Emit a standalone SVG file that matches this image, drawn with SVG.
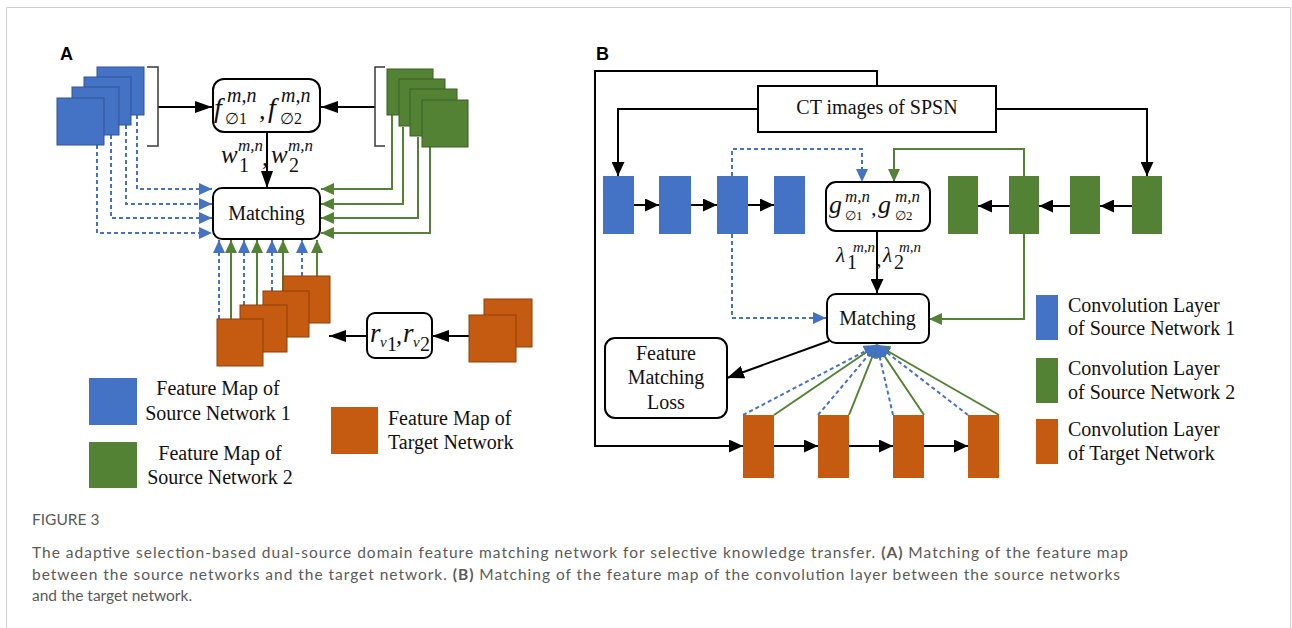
<svg xmlns="http://www.w3.org/2000/svg" width="1292" height="628" viewBox="0 0 1292 628">
<style>
  .frame{fill:none;stroke:#cfcfcf;stroke-width:1}
  .sqb{fill:#4472C4;stroke:#2F5597;stroke-width:1}
  .sqg{fill:#548235;stroke:#3A5F24;stroke-width:1}
  .sqo{fill:#C55A11;stroke:#8E3F0B;stroke-width:1}
  .lb{fill:#4472C4}
  .lg{fill:#548235}
  .lo{fill:#C55A11}
  .box{fill:#fff;stroke:#000;stroke-width:2}
  .brk{fill:none;stroke:#3a3a3a;stroke-width:1.5}
  .k{fill:none;stroke:#000;stroke-width:2}
  .bd{fill:none;stroke:#4472C4;stroke-width:2;stroke-dasharray:4 3}
  .gs{fill:none;stroke:#548235;stroke-width:2}
  .t{font-family:"Liberation Serif","Times New Roman",serif;font-size:20px;fill:#111}
  .m{font-family:"Liberation Serif","DejaVu Serif",serif;font-style:italic;fill:#111}
  .u{font-family:"DejaVu Serif","Liberation Serif",serif;font-style:normal;fill:#111}
  .pl{font-family:"Liberation Sans",Arial,sans-serif;font-weight:bold;font-size:18px;fill:#000}
  .cap{font-family:Lato,"Open Sans",sans-serif;font-size:15.5px;fill:#5a5a5a}
</style>
<defs>
  <marker id="hA" markerUnits="userSpaceOnUse" markerWidth="17" markerHeight="12" refX="17" refY="6" orient="auto">
    <path d="M0,0 L17,6 L0,12 z" fill="#000"/>
  </marker>
  <marker id="hK" markerUnits="userSpaceOnUse" markerWidth="14" markerHeight="13" refX="14" refY="6.5" orient="auto">
    <path d="M0,0 L14,6.5 L0,13 z" fill="#000"/>
  </marker>
  <marker id="hL" markerUnits="userSpaceOnUse" markerWidth="17" markerHeight="13" refX="17" refY="6.5" orient="auto">
    <path d="M0,0 L17,6.5 L0,13 z" fill="#000"/>
  </marker>
  <marker id="hB" markerUnits="userSpaceOnUse" markerWidth="13" markerHeight="12" refX="13" refY="6" orient="auto">
    <path d="M0,0 L13,6 L0,12 z" fill="#4472C4"/>
  </marker>
  <marker id="hG" markerUnits="userSpaceOnUse" markerWidth="13" markerHeight="12" refX="13" refY="6" orient="auto">
    <path d="M0,0 L13,6 L0,12 z" fill="#548235"/>
  </marker>
</defs>

<rect width="1292" height="628" fill="#fff"/>
<path class="frame" d="M6.5,628 V7.5 H1290.5 V628"/>

<!-- ===== Panel A ===== -->
<text class="pl" x="60" y="59.5">A</text>

<g id="connectors-a">
  <path class="k" d="M158,107 H212" marker-end="url(#hA)"/>
  <path class="k" d="M375,107 H321" marker-end="url(#hA)"/>
  <path class="k" d="M267,132 V188" marker-end="url(#hA)"/>
  <!-- source 1 maps to matching -->
  <path class="bd" d="M137,115 V189 H212" marker-end="url(#hB)"/>
  <path class="bd" d="M126,125 V204 H212" marker-end="url(#hB)"/>
  <path class="bd" d="M111,135 V218 H212" marker-end="url(#hB)"/>
  <path class="bd" d="M97,145 V233 H212" marker-end="url(#hB)"/>
  <!-- source 2 maps to matching -->
  <path class="gs" d="M392,115 V189 H321" marker-end="url(#hG)"/>
  <path class="gs" d="M403,127 V204 H321" marker-end="url(#hG)"/>
  <path class="gs" d="M418,137 V218 H321" marker-end="url(#hG)"/>
  <path class="gs" d="M430,147 V233 H321" marker-end="url(#hG)"/>
  <!-- target maps to matching -->
  <path class="bd" d="M219,319 V240" marker-end="url(#hB)"/>
  <path class="gs" d="M231,319 V240" marker-end="url(#hG)"/>
  <path class="bd" d="M244,305 V240" marker-end="url(#hB)"/>
  <path class="gs" d="M257,305 V240" marker-end="url(#hG)"/>
  <path class="bd" d="M272,291 V240" marker-end="url(#hB)"/>
  <path class="gs" d="M283,291 V240" marker-end="url(#hG)"/>
  <path class="bd" d="M302,276 V240" marker-end="url(#hB)"/>
  <path class="gs" d="M317,276 V240" marker-end="url(#hG)"/>
  <!-- r box links -->
  <path class="k" d="M367,336 H329" marker-end="url(#hA)"/>
  <path class="k" d="M469,336 H432" marker-end="url(#hA)"/>
</g>

<g id="source1-maps">
  <rect class="sqb" x="97" y="67" width="47" height="48"/>
  <rect class="sqb" x="84" y="77" width="47" height="48"/>
  <rect class="sqb" x="72" y="87" width="47" height="48"/>
  <rect class="sqb" x="57" y="98" width="47" height="47"/>
  <path class="brk" d="M147,67 H158 V146 H147"/>
</g>

<g id="source2-maps">
  <rect class="sqg" x="387" y="69" width="46" height="46"/>
  <rect class="sqg" x="399" y="79" width="46" height="47"/>
  <rect class="sqg" x="410" y="89" width="47" height="47"/>
  <rect class="sqg" x="422" y="100" width="46" height="47"/>
  <path class="brk" d="M385,67 H375 V146 H385"/>
</g>

<g id="selector-a">
  <rect class="box" x="213" y="79" width="107" height="53" rx="11"/>
  <text class="m" x="214" y="117" font-size="28">f</text>
  <text class="m" x="227" y="102" font-size="20">m,n</text>
  <text class="u" x="225" y="124" font-size="16">∅<tspan font-family="Liberation Serif">1</tspan></text>
  <text class="m" x="259" y="119" font-size="26">,</text>
  <text class="m" x="268" y="117" font-size="28">f</text>
  <text class="m" x="281" y="102" font-size="20">m,n</text>
  <text class="u" x="280" y="124" font-size="16">∅<tspan font-family="Liberation Serif">2</tspan></text>
</g>

<g id="weights-a">
  <text class="m" x="221" y="163" font-size="25">w</text>
  <text class="m" x="238" y="151" font-size="17">m,n</text>
  <text class="t" x="239" y="172" font-size="15">1</text>
  <text class="m" x="262" y="165" font-size="24">,</text>
  <text class="m" x="271" y="163" font-size="25">w</text>
  <text class="m" x="288" y="151" font-size="17">m,n</text>
  <text class="t" x="289" y="172" font-size="15">2</text>
</g>

<g id="matching-a">
  <rect class="box" x="213" y="188" width="107" height="51" rx="9"/>
  <text class="t" x="266.5" y="220" text-anchor="middle">Matching</text>
</g>

<g id="target-maps">
  <rect class="sqo" x="283" y="276" width="47" height="47"/>
  <rect class="sqo" x="263" y="291" width="46" height="46"/>
  <rect class="sqo" x="240" y="305" width="47" height="47"/>
  <rect class="sqo" x="217" y="319" width="46" height="47"/>
</g>

<g id="resize-a">
  <rect class="box" x="367" y="313" width="65" height="45" rx="8"/>
  <text class="m" x="370" y="342" font-size="27">r</text>
  <text class="m" x="380" y="347" font-size="15">v</text>
  <text class="t" x="387" y="351" font-size="13">1</text>
  <text class="m" x="396" y="343" font-size="24">,</text>
  <text class="m" x="403" y="342" font-size="27">r</text>
  <text class="m" x="413" y="347" font-size="15">v</text>
  <text class="t" x="420" y="351" font-size="13">2</text>
</g>

<g id="input-maps">
  <rect class="sqo" x="484" y="299" width="48" height="48"/>
  <rect class="sqo" x="469" y="315" width="47" height="47"/>
</g>

<g id="legend-a">
  <rect class="lb" x="89" y="378" width="48" height="47"/>
  <text class="t" x="218" y="395" text-anchor="middle">Feature Map of</text>
  <text class="t" x="218" y="420" text-anchor="middle">Source Network 1</text>
  <rect class="lg" x="89" y="442" width="48" height="46"/>
  <text class="t" x="220" y="459.5" text-anchor="middle">Feature Map of</text>
  <text class="t" x="220" y="483.5" text-anchor="middle">Source Network 2</text>
  <rect class="lo" x="331" y="407" width="47" height="47"/>
  <text class="t" x="388" y="425">Feature Map of</text>
  <text class="t" x="388" y="449">Target Network</text>
</g>

<!-- ===== Panel B ===== -->
<text class="pl" x="596" y="59.5">B</text>

<g id="connectors-b">
  <path class="k" d="M877,86 V71 H595 V446 H743" marker-end="url(#hK)"/>
  <path class="k" d="M758,109 H618 V176" marker-end="url(#hK)"/>
  <path class="k" d="M996,109 H1147 V176" marker-end="url(#hK)"/>
  <path class="k" d="M633,205 H659" marker-end="url(#hK)"/>
  <path class="k" d="M691,205 H717" marker-end="url(#hK)"/>
  <path class="k" d="M748,205 H774" marker-end="url(#hK)"/>
  <path class="k" d="M1132,206 H1100" marker-end="url(#hK)"/>
  <path class="k" d="M1070,206 H1039" marker-end="url(#hK)"/>
  <path class="k" d="M1009,206 H978" marker-end="url(#hK)"/>
  <path class="bd" d="M732,176 V149 H862 V182" marker-end="url(#hB)"/>
  <path class="gs" d="M1024,176 V149 H894 V182" marker-end="url(#hG)"/>
  <path class="bd" d="M732,234 V318 H826" marker-end="url(#hB)"/>
  <path class="gs" d="M1024,234 V319 H929" marker-end="url(#hG)"/>
  <path class="k" d="M877,231 V293" marker-end="url(#hK)"/>
  <path class="k" d="M829,341 L727,378" marker-end="url(#hL)"/>
  <path class="k" d="M774,446 H818" marker-end="url(#hK)"/>
  <path class="k" d="M849,446 H893" marker-end="url(#hK)"/>
  <path class="k" d="M924,446 H968" marker-end="url(#hK)"/>
  <!-- target layers to matching -->
  <path class="gs" d="M774,415 L877,345" marker-end="url(#hG)"/>
  <path class="gs" d="M849,415 L877,345" marker-end="url(#hG)"/>
  <path class="gs" d="M924,415 L877,345" marker-end="url(#hG)"/>
  <path class="gs" d="M999,415 L877,345" marker-end="url(#hG)"/>
  <path class="bd" d="M743,415 L877,345" marker-end="url(#hB)"/>
  <path class="bd" d="M818,415 L877,345" marker-end="url(#hB)"/>
  <path class="bd" d="M893,415 L877,345" marker-end="url(#hB)"/>
  <path class="bd" d="M968,415 L877,345" marker-end="url(#hB)"/>
</g>

<g id="ct-images">
  <rect x="758" y="86" width="238" height="46" fill="#fff" stroke="#000" stroke-width="2"/>
  <text class="t" x="877" y="114" text-anchor="middle">CT images of SPSN</text>
</g>

<g id="source1-layers">
  <rect class="lb" x="603" y="176" width="31" height="58"/>
  <rect class="lb" x="659" y="176" width="32" height="58"/>
  <rect class="lb" x="717" y="176" width="31" height="58"/>
  <rect class="lb" x="774" y="176" width="31" height="58"/>
</g>

<g id="source2-layers">
  <rect class="lg" x="948" y="176" width="30" height="58"/>
  <rect class="lg" x="1009" y="176" width="30" height="58"/>
  <rect class="lg" x="1070" y="176" width="30" height="58"/>
  <rect class="lg" x="1132" y="176" width="30" height="58"/>
</g>

<g id="selector-b">
  <rect class="box" x="826" y="182" width="104" height="49" rx="10"/>
  <text class="m" x="829" y="213" font-size="26">g</text>
  <text class="m" x="845" y="202" font-size="17">m,n</text>
  <text class="u" x="845" y="220" font-size="13">∅<tspan font-family="Liberation Serif">1</tspan></text>
  <text class="m" x="871" y="215" font-size="22">,</text>
  <text class="m" x="878" y="213" font-size="26">g</text>
  <text class="m" x="895" y="202" font-size="17">m,n</text>
  <text class="u" x="895" y="220" font-size="13">∅<tspan font-family="Liberation Serif">2</tspan></text>
</g>

<g id="weights-b">
  <text class="m" x="836" y="262" font-size="21">λ</text>
  <text class="m" x="853" y="252" font-size="15">m,n</text>
  <text class="t" x="847" y="269" font-size="13">1</text>
  <text class="m" x="876" y="266" font-size="22">,</text>
  <text class="m" x="883" y="262" font-size="21">λ</text>
  <text class="m" x="899" y="252" font-size="15">m,n</text>
  <text class="t" x="894" y="269" font-size="13">2</text>
</g>

<g id="matching-b">
  <rect class="box" x="827" y="294" width="102" height="49" rx="9"/>
  <text class="t" x="877.5" y="325" text-anchor="middle">Matching</text>
</g>

<g id="loss">
  <rect class="box" x="605" y="338" width="122" height="80" rx="10"/>
  <text class="t" x="666" y="360" font-size="24" text-anchor="middle">Feature</text>
  <text class="t" x="666" y="384" font-size="24" text-anchor="middle">Matching</text>
  <text class="t" x="666" y="409" font-size="24" text-anchor="middle">Loss</text>
</g>

<g id="target-layers">
  <rect class="lo" x="743" y="415" width="31" height="63"/>
  <rect class="lo" x="818" y="415" width="31" height="63"/>
  <rect class="lo" x="893" y="415" width="31" height="63"/>
  <rect class="lo" x="968" y="415" width="31" height="63"/>
</g>

<g id="legend-b">
  <rect class="lb" x="1036" y="295" width="22" height="45"/>
  <text class="t" x="1068" y="311.5">Convolution Layer</text>
  <text class="t" x="1068" y="335">of Source Network 1</text>
  <rect class="lg" x="1036" y="358" width="22" height="45"/>
  <text class="t" x="1068" y="375">Convolution Layer</text>
  <text class="t" x="1068" y="398.5">of Source Network 2</text>
  <rect class="lo" x="1036" y="419" width="22" height="45"/>
  <text class="t" x="1068" y="436">Convolution Layer</text>
  <text class="t" x="1068" y="460">of Target Network</text>
</g>

<!-- ===== Caption ===== -->
<g id="caption">
  <text class="cap" x="32" y="525" font-size="12.5">FIGURE 3</text>
  <text class="cap" x="32" y="558" textLength="1096" lengthAdjust="spacing">The adaptive selection-based dual-source domain feature matching network for selective knowledge transfer. <tspan font-weight="bold">(A)</tspan> Matching of the feature map</text>
  <text class="cap" x="32" y="580" textLength="1088" lengthAdjust="spacing">between the source networks and the target network. <tspan font-weight="bold">(B)</tspan> Matching of the feature map of the convolution layer between the source networks</text>
  <text class="cap" x="32" y="601">and the target network.</text>
</g>
</svg>
